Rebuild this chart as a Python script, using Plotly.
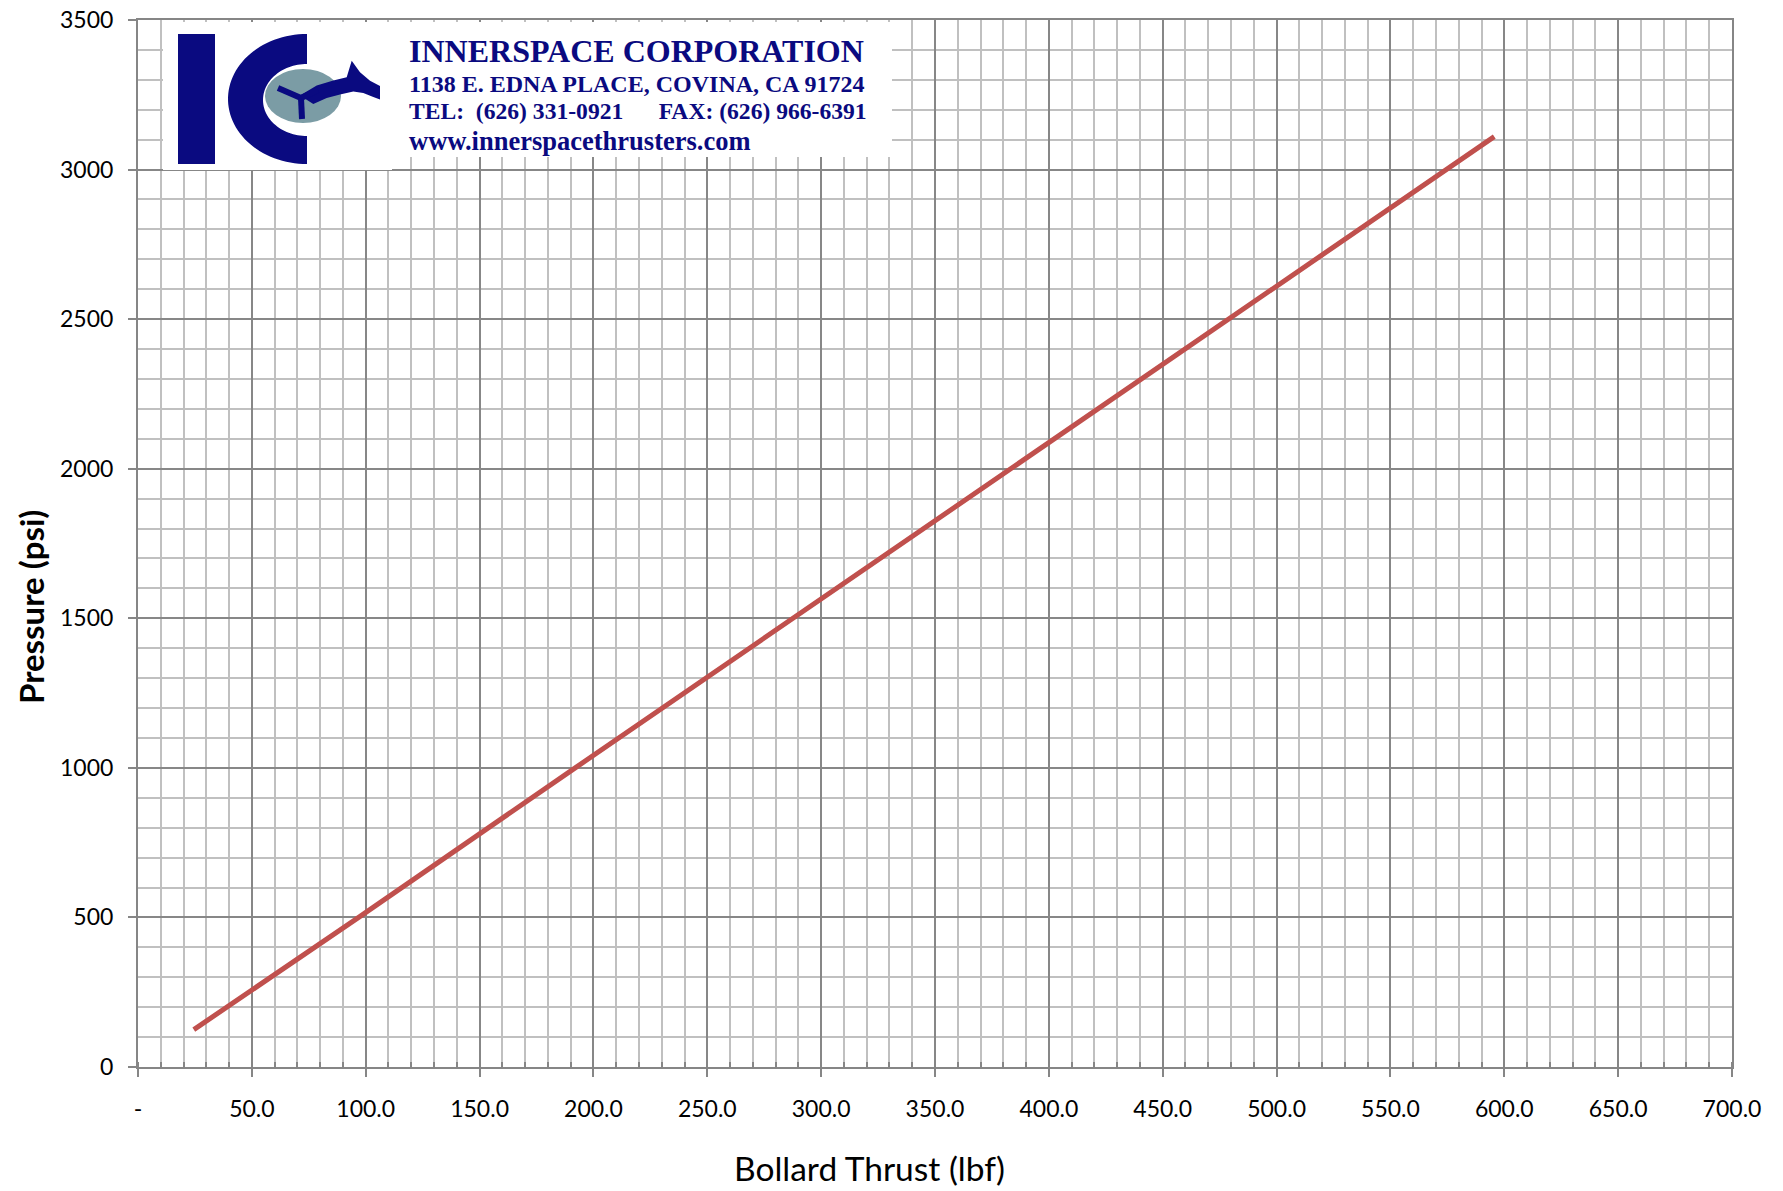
import numpy as np
import plotly.graph_objects as go

# ---------------- data ----------------
thrust_lbf = [24.5, 96.9, 192.0, 287.5, 383.0, 479.0, 574.5, 595.6]
pressure_psi = [125, 500, 1000, 1500, 2000, 2500, 3000, 3110]

x_tick_vals = [0, 50, 100, 150, 200, 250, 300, 350, 400, 450, 500, 550, 600, 650, 700]
x_tick_text = ["-", "50.0", "100.0", "150.0", "200.0", "250.0", "300.0", "350.0",
               "400.0", "450.0", "500.0", "550.0", "600.0", "650.0", "700.0"]
y_tick_vals = [0, 500, 1000, 1500, 2000, 2500, 3000, 3500]
y_tick_text = ["0", "500", "1000", "1500", "2000", "2500", "3000", "3500"]

x_title = "Bollard Thrust (lbf)"
y_title = "Pressure (psi)"

logo_lines = [
    "INNERSPACE CORPORATION",
    "1138 E. EDNA PLACE, COVINA, CA 91724",
    "TEL:&nbsp; (626) 331-0921&nbsp;&nbsp;&nbsp;&nbsp;&nbsp; FAX: (626) 966-6391",
    "www.innerspacethrusters.com",
]

# ---------------- layout geometry (page pixels) ----------------
W, H = 1783, 1191
PL, PR, PT, PB = 138, 1732, 20, 1067
ML, MT = PL, PT
MR, MB = W - PR, H - PB


def px(x):
    return (x - PL) / (PR - PL)


def py(y):
    return (PB - y) / (PB - PT)


def poly_path(points):
    pts = [f"{px(x):.5f},{py(y):.5f}" for x, y in points]
    return "M " + " L ".join(pts) + " Z"


NAVY = "#0A0A80"
GREY_MINOR = "#C0C0C0"
GREY_MAJOR = "#878787"
AXIS = "#868686"
FONT = "Lato"

fig = go.Figure()
fig.add_trace(go.Scatter(
    x=thrust_lbf, y=pressure_psi, mode="lines",
    line=dict(color="#C0504D", width=5),
    showlegend=False, hoverinfo="skip",
))

shapes = []
# white backgrounds of the logo
shapes.append(dict(type="rect", xref="paper", yref="paper", layer="above",
                   x0=px(163), x1=px(392), y0=py(170), y1=py(22),
                   fillcolor="white", line=dict(width=0)))
shapes.append(dict(type="rect", xref="paper", yref="paper", layer="above",
                   x0=px(392), x1=px(892), y0=py(157), y1=py(22),
                   fillcolor="white", line=dict(width=0)))
# "I"
shapes.append(dict(type="rect", xref="paper", yref="paper", layer="above",
                   x0=px(178), x1=px(215), y0=py(164), y1=py(34),
                   fillcolor=NAVY, line=dict(width=0)))
# "C"
t_out = np.linspace(np.pi / 2, 3 * np.pi / 2, 60)
outer = [(307 + 79 * np.cos(t), 99 - 65 * np.sin(t)) for t in t_out]
t_in = t_out[::-1]
inner = [(307 + 44 * np.cos(t), 100 - 36 * np.sin(t)) for t in t_in]
shapes.append(dict(type="path", xref="paper", yref="paper", layer="above",
                   path=poly_path(outer + inner), fillcolor=NAVY, line=dict(width=0)))
# grey disc
shapes.append(dict(type="circle", xref="paper", yref="paper", layer="above",
                   x0=px(265), x1=px(341), y0=py(123), y1=py(69),
                   fillcolor="#7B9CA5", line=dict(width=0)))
# dolphin
dolphin = [(300, 95.5), (316.7, 85.5), (333.3, 80.5), (346.7, 77.3), (351.7, 60.7),
           (360, 72.3), (370, 80.7), (380, 86.0), (380, 99.5), (373.3, 97),
           (363.3, 93), (353.3, 91.5), (340, 94.5), (326.7, 98), (313.3, 104)]
shapes.append(dict(type="path", xref="paper", yref="paper", layer="above",
                   path=poly_path(dolphin), fillcolor=NAVY, line=dict(width=0)))
# propeller blades
for (xa, ya) in [(278, 88), (302, 119), (318, 90)]:
    shapes.append(dict(type="line", xref="paper", yref="paper", layer="above",
                       x0=px(301), y0=py(98), x1=px(xa), y1=py(ya),
                       line=dict(color=NAVY, width=6)))

annotations = []
logo_y = [51, 84, 111, 141]
logo_size = [32, 24, 23.6, 26.5]
for txt, yy, sz in zip(logo_lines, logo_y, logo_size):
    annotations.append(dict(
        text=f"<b>{txt}</b>", xref="paper", yref="paper", x=px(407), y=py(yy),
        xanchor="left", yanchor="middle", showarrow=False,
        font=dict(family="Liberation Serif", size=sz, color=NAVY)))

# axis titles
annotations.append(dict(
    text=x_title, xref="paper", yref="paper", x=px(869), y=py(1168),
    xanchor="center", yanchor="middle", showarrow=False,
    font=dict(family=FONT, size=33.5, color="black")))
annotations.append(dict(
    text=f"<b>{y_title}</b>", xref="paper", yref="paper", x=px(31), y=py(607),
    xanchor="center", yanchor="middle", showarrow=False, textangle=-90,
    font=dict(family=FONT, size=33, color="black")))

fig.update_layout(
    width=W, height=H,
    margin=dict(l=ML, r=MR, t=MT, b=MB, autoexpand=False),
    paper_bgcolor="white", plot_bgcolor="white",
    shapes=shapes, annotations=annotations,
    font=dict(family=FONT, color="black"),
    xaxis=dict(
        range=[0, 700], tickvals=x_tick_vals, ticktext=x_tick_text,
        ticks="outside", ticklen=8, tickwidth=2, tickcolor=AXIS,
        showgrid=True, gridcolor=GREY_MAJOR, gridwidth=2,
        showline=True, linecolor=AXIS, linewidth=2, mirror=True, zeroline=False,
        tickfont=dict(family=FONT, size=23, color="black"),
        ticklabelstandoff=12, automargin=False, ticklabeloverflow="allow",
        minor=dict(dtick=10, tick0=0, ticks="inside", ticklen=5, tickwidth=2,
                   tickcolor=AXIS, showgrid=True, gridcolor=GREY_MINOR, gridwidth=2),
    ),
    yaxis=dict(
        range=[0, 3500], tickvals=y_tick_vals, ticktext=y_tick_text,
        ticks="outside", ticklen=8, tickwidth=2, tickcolor=AXIS,
        showgrid=True, gridcolor=GREY_MAJOR, gridwidth=2,
        showline=True, linecolor=AXIS, linewidth=2, mirror=True, zeroline=False,
        tickfont=dict(family=FONT, size=23, color="black"),
        ticklabelstandoff=10, automargin=False, ticklabeloverflow="allow",
        minor=dict(dtick=100, tick0=0, ticks="", showgrid=True,
                   gridcolor=GREY_MINOR, gridwidth=2),
    ),
)

fig.write_html("out.html",
               config={"displayModeBar": False, "staticPlot": True},
               post_script="document.body.style.margin='0';document.body.style.overflow='hidden';")
